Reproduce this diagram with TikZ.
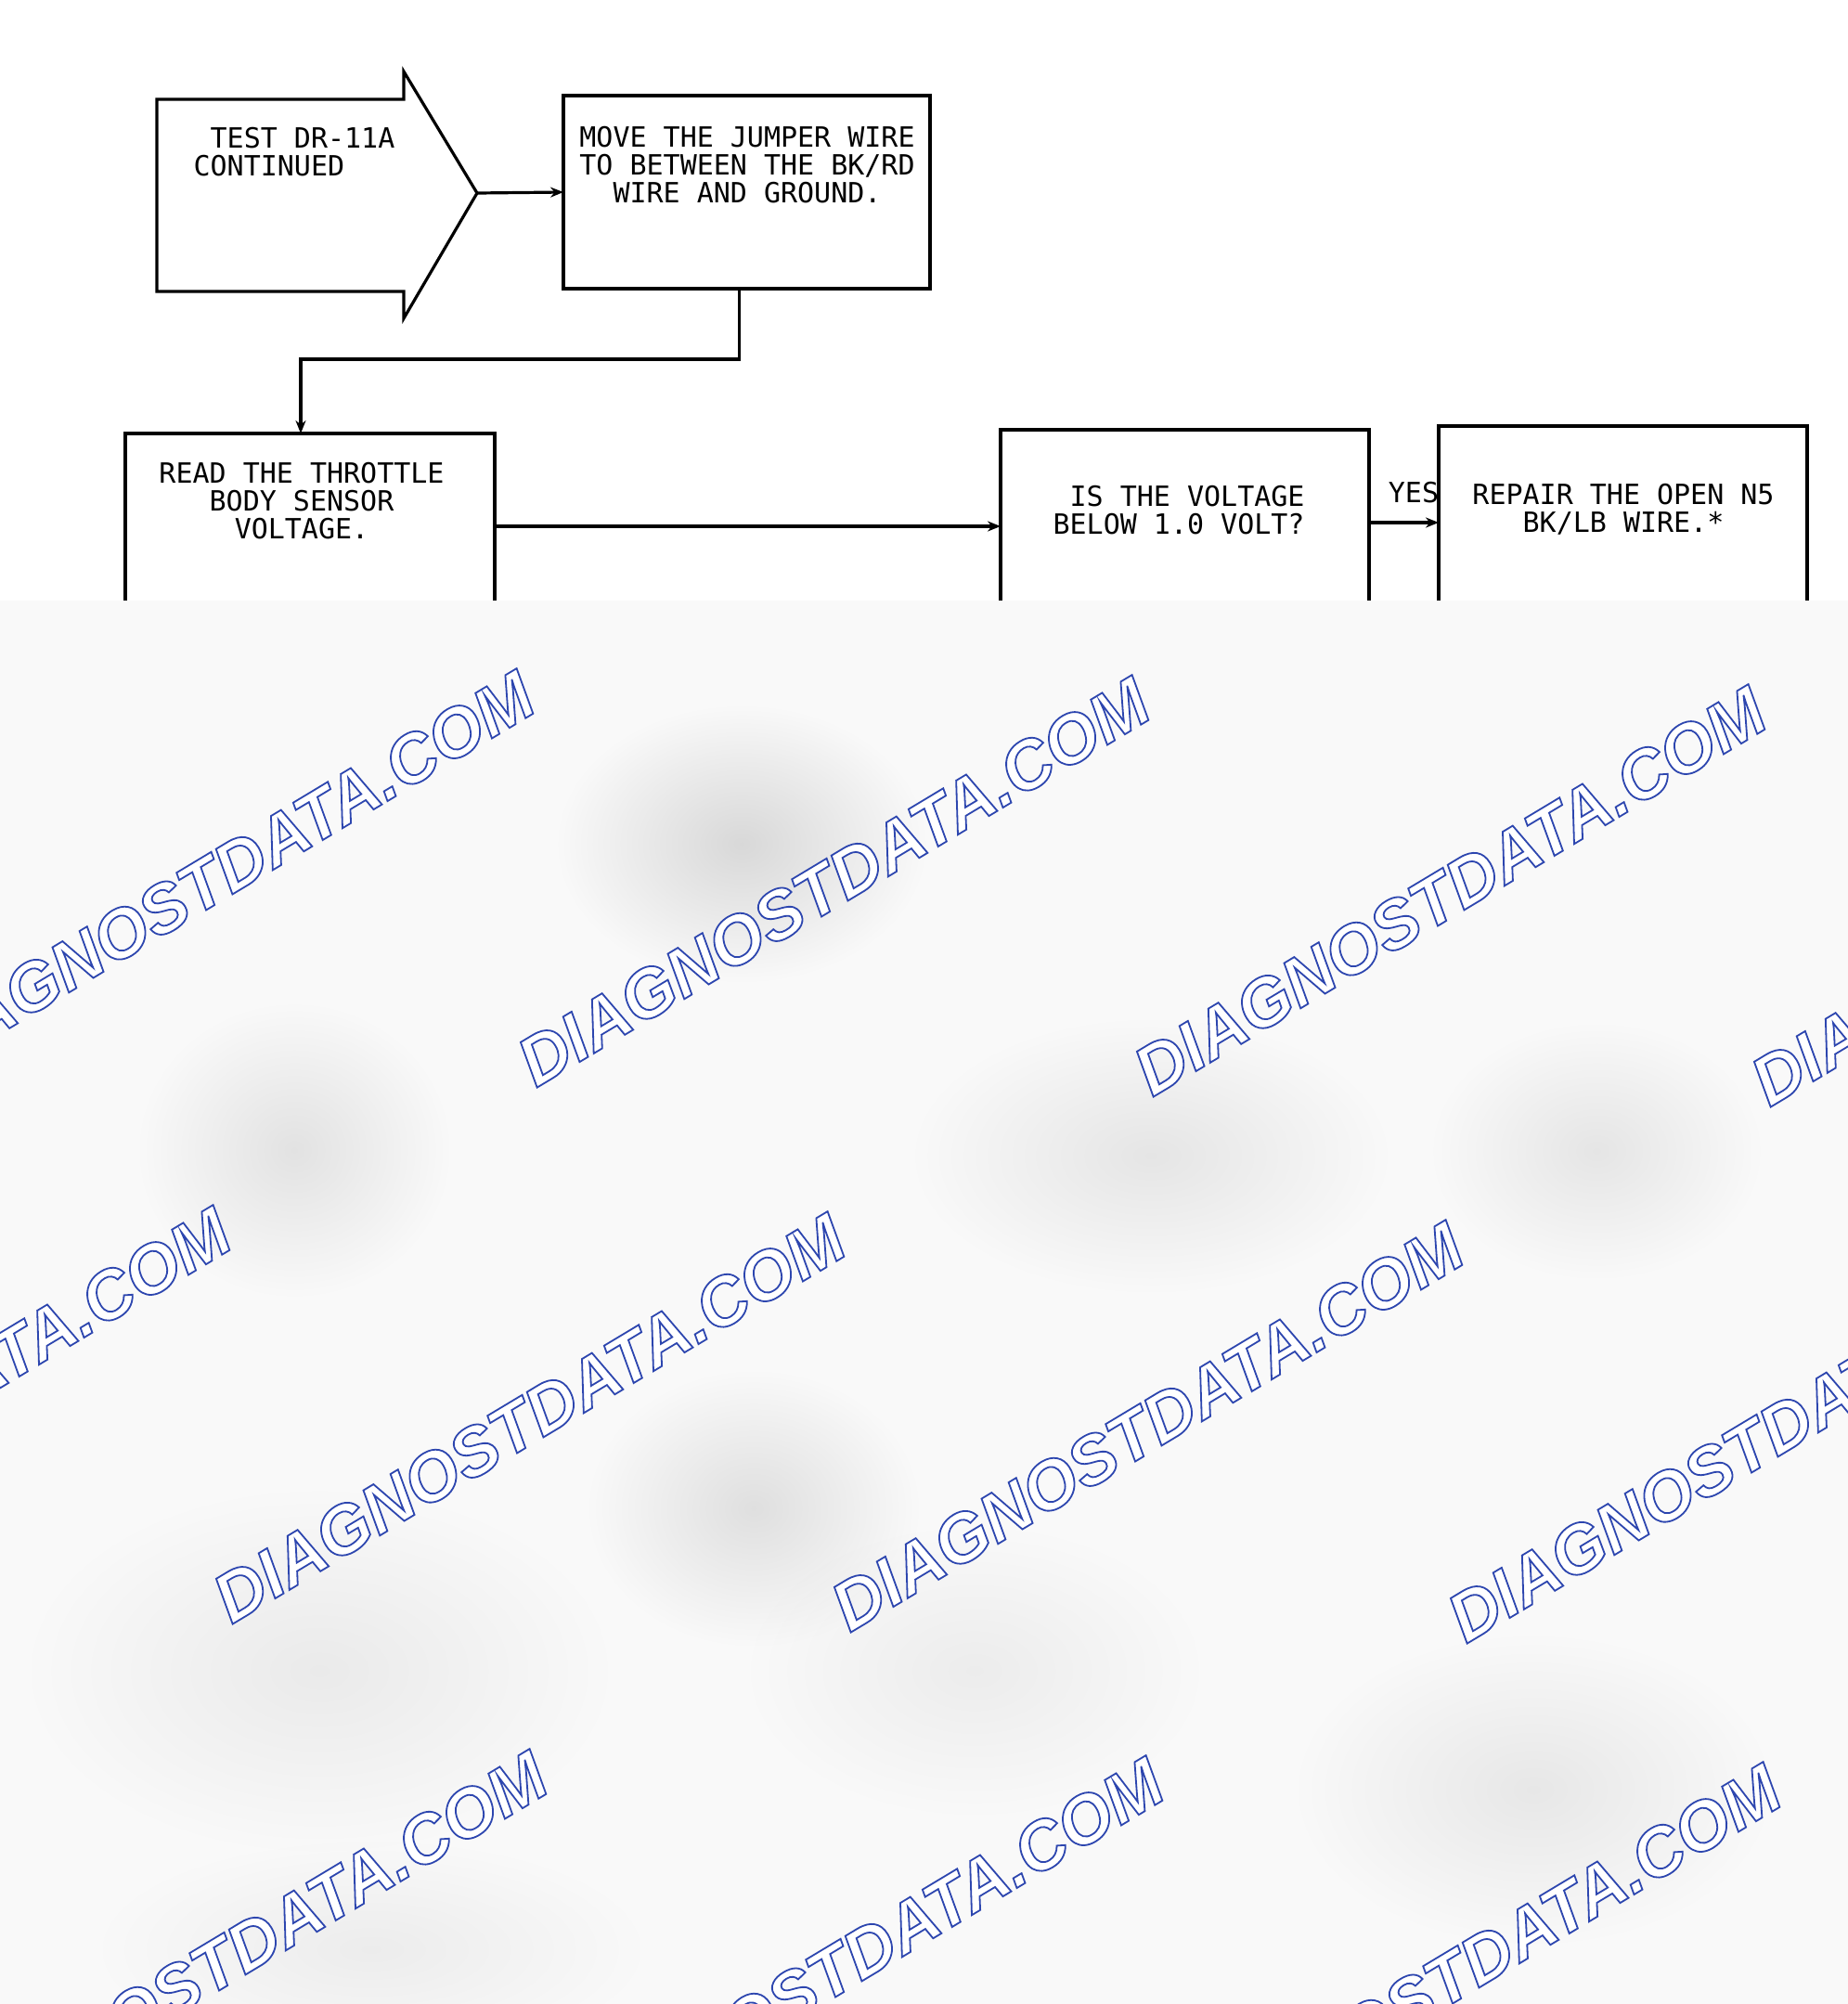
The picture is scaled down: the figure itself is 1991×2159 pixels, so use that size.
\documentclass[tikz,border=0pt]{standalone}
\usepackage{fontspec}
\usepackage{xcolor}
\usetikzlibrary{arrows.meta,fadings}
\newfontfamily\plotfont{DejaVu Sans Mono}
\newfontfamily\wmfont{Liberation Sans}
\definecolor{wmblue}{RGB}{45,70,175}
\newcommand\outlinetext[1]{\special{pdf:literal direct 1 g 2 Tr 0.9 w}#1\special{pdf:literal direct 0 Tr}}
\tikzfading[name=blob, inner color=transparent!0, outer color=transparent!100]
\tikzset{
  box/.style={draw, inner sep=0pt, outer sep=0pt},
  txt/.style={font=\plotfont\fontsize{15}{15}\selectfont, inner sep=0pt, anchor=north},
  wm/.style={rotate=31, inner sep=0pt, text=wmblue, font=\wmfont\bfseries\itshape\fontsize{37}{37}\selectfont}
}

\begin{document}
\begin{tikzpicture}[x=0.5pt,y=-0.5pt,line width=1.6pt,>={Stealth[length=7pt,width=5.5pt]}]
    \useasboundingbox (0,0) rectangle (1991,2159);
    \fill[white] (0,0) rectangle (1991,2159);

    % start arrow
    \draw (169,107) -- (435,107) -- (435,77) -- (514,208) -- (435,343) -- (435,314) -- (169,314) -- cycle;
    \coordinate (tip) at (514,208);
    \node[txt, anchor=north west, align=left] (testtxt) at (207,136) {\phantom{T}TEST DR-11A\\CONTINUED};

    % boxes
    \node[box, minimum width=197.5pt, minimum height=104pt] (move) at (804.5,207) {};
    \node[box, minimum width=199pt, minimum height=100pt] (read) at (334,567) {};
    \node[box, minimum width=198.5pt, minimum height=100pt] (volt) at (1276.5,563) {};
    \node[box, minimum width=198.5pt, minimum height=100pt] (repair) at (1748.5,559) {};

    \node[txt, align=center] (movetxt) at (805,135) {MOVE THE JUMPER WIRE\\TO BETWEEN THE BK/RD\\WIRE AND GROUND.};
    \node[txt, align=center] (readtxt) at (325,497) {READ THE THROTTLE\\BODY SENSOR\\VOLTAGE.};
    \node[txt, anchor=north west, align=left] (volttxt) at (1133,522) {\phantom{I}IS THE VOLTAGE\\BELOW 1.0 VOLT?};
    \node[txt, align=center] (repairtxt) at (1749,520) {REPAIR THE OPEN N5\\BK/LB WIRE.*};

    % connectors
    \draw[->] (tip) -- (move.west);
    \draw[->] ([xshift=-4pt]move.south) -- ++(0,76) -| ([xshift=-5pt]read.north);
    \draw[->] (read.east) -- (read.east -| volt.west);
    \draw[->] (volt.east) -- (volt.east -| repair.west);
    \node[txt, anchor=center] (yes) at (1523,531) {YES};

    % overlay
    \fill[gray!5] (0,647) rectangle (1991,2159);
    \foreach \bx/\by/\rx/\ry/\op in {799/909/200/150/0.13, 317/1239/170/160/0.09, 1240/1245/260/150/0.08, 1720/1240/180/140/0.08,
        812/1625/180/150/0.10, 344/1800/320/200/0.06, 1050/1800/250/160/0.05, 1652/1928/260/170/0.07, 400/2100/300/120/0.05}
      \fill[black, opacity=\op, path fading=blob] (\bx,\by) ellipse [x radius=\rx, y radius=\ry];

    % watermark
    \begin{scope}
      \clip (0,647) rectangle (1991,2159);
      \foreach \wx/\wy [count=\i] in {235/943, 898/950, 1562/960, 2227/971, -92/1521, 570/1528, 1236/1537, 1900/1549, 249/2107, 913/2114, 1578/2121}
        \node[wm] (wm\i) at (\wx,\wy) {\outlinetext{DIAGNOSTDATA.COM}};
    \end{scope}
\end{tikzpicture}
\end{document}
